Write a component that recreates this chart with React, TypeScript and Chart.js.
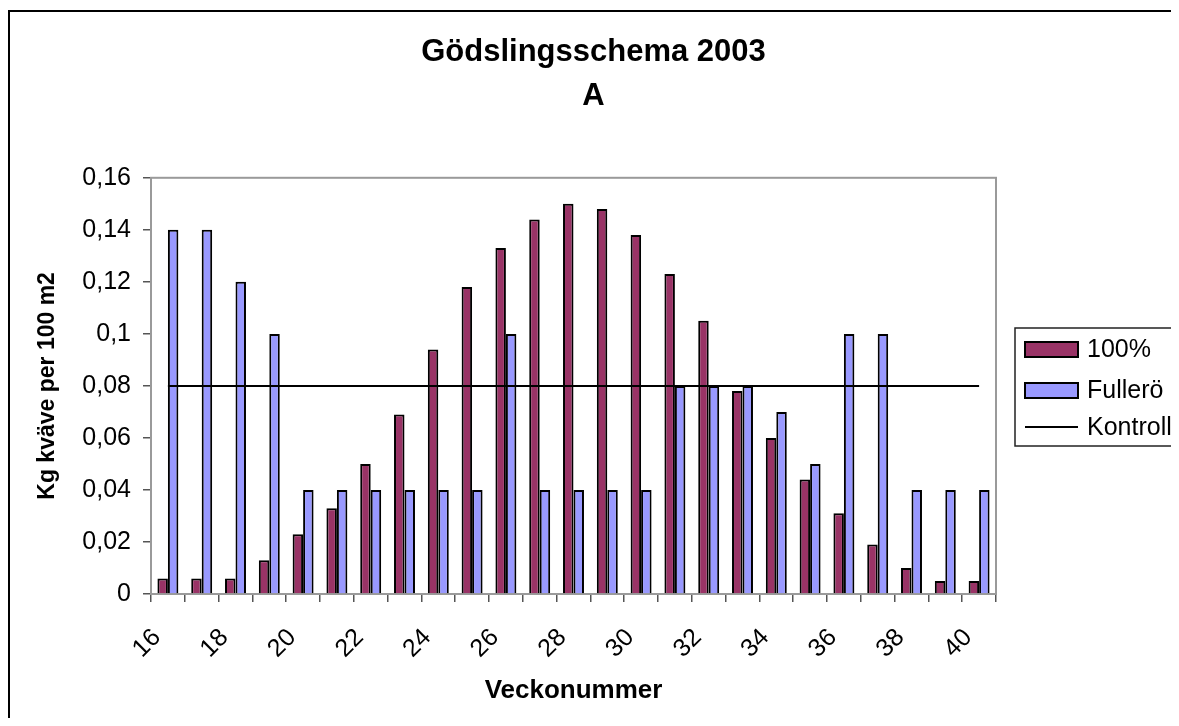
import React, { useEffect, useRef } from 'react';
import { Chart, registerables } from 'chart.js';

Chart.register(...registerables);

const weeks = ['16','17','18','19','20','21','22','23','24','25','26','27','28','29','30','31','32','33','34','35','36','37','38','39','40'];
const series100 = [0.006,0.006,0.006,0.013,0.023,0.033,0.05,0.069,0.094,0.118,0.133,0.144,0.15,0.148,0.138,0.123,0.105,0.078,0.06,0.044,0.031,0.019,0.01,0.005,0.005];
const seriesFullero = [0.14,0.14,0.12,0.10,0.04,0.04,0.04,0.04,0.04,0.04,0.10,0.04,0.04,0.04,0.04,0.08,0.08,0.08,0.07,0.05,0.10,0.10,0.04,0.04,0.04];
const seriesKontroll = [0.08,0.08,0.08,0.08,0.08,0.08,0.08,0.08,0.08,0.08,0.08,0.08,0.08,0.08,0.08,0.08,0.08,0.08,0.08,0.08,0.08,0.08,0.08,0.08,0.08];
const yTicks = { min: 0, max: 0.16, step: 0.02 };
const titleLines = ['Gödslingsschema 2003', 'A'];
const xTitle = 'Veckonummer';
const yTitle = 'Kg kväve per 100 m2';

const FONT = "'Liberation Sans', Arial, sans-serif";

const framePlugin = {
  id: 'frame',
  beforeDraw(chart: any) {
    const { ctx, width, height } = chart;
    ctx.save();
    ctx.fillStyle = '#ffffff';
    ctx.fillRect(0, 0, width, height);
    ctx.strokeStyle = '#000000';
    ctx.lineWidth = 2;
    ctx.beginPath();
    ctx.moveTo(1, height + 5);
    ctx.lineTo(1, 3);
    ctx.lineTo(width + 5, 3);
    ctx.stroke();
    ctx.restore();
  },
  beforeDatasetsDraw(chart: any) {
    const { ctx, chartArea } = chart;
    ctx.save();
    ctx.strokeStyle = '#9a9a9a';
    ctx.lineWidth = 2;
    ctx.strokeRect(chartArea.left, chartArea.top, chartArea.right - chartArea.left, chartArea.bottom - chartArea.top);
    ctx.restore();
  },
};

const legendPlugin = {
  id: 'boxLegend',
  afterDraw(chart: any) {
    const { ctx } = chart;
    const bx = 1007, by = 320, bw = 160, bh = 118;
    ctx.save();
    ctx.strokeStyle = '#222222';
    ctx.lineWidth = 1.5;
    ctx.strokeRect(bx, by, bw, bh);
    const rows = [341, 382, 419];
    ctx.font = `25px ${FONT}`;
    ctx.textBaseline = 'middle';
    ctx.textAlign = 'left';
    chart.data.datasets.forEach((ds: any, i: number) => {
      const cy = rows[i];
      if (ds.type === 'line') {
        ctx.strokeStyle = ds.borderColor;
        ctx.lineWidth = 2;
        ctx.beginPath();
        ctx.moveTo(1017, cy);
        ctx.lineTo(1070, cy);
        ctx.stroke();
      } else {
        ctx.fillStyle = ds.backgroundColor;
        ctx.fillRect(1017, cy - 7, 53, 15);
        ctx.strokeStyle = '#000000';
        ctx.lineWidth = 2;
        ctx.strokeRect(1017, cy - 7, 53, 15);
      }
      ctx.fillStyle = '#000000';
      ctx.fillText(ds.label, 1079, cy + 1);
    });
    ctx.restore();
  },
};

export default function App() {
  const ref = useRef<HTMLCanvasElement | null>(null);

  useEffect(() => {
    if (!ref.current) return;
    const chart = new Chart(ref.current, {
      type: 'bar',
      data: {
        labels: weeks,
        datasets: [
          {
            type: 'bar',
            label: '100%',
            data: series100,
            backgroundColor: '#993366',
            borderColor: '#000000',
            borderWidth: 2,
            categoryPercentage: 0.62,
            barPercentage: 1.0,
            order: 2,
          },
          {
            type: 'bar',
            label: 'Fullerö',
            data: seriesFullero,
            backgroundColor: '#9999FF',
            borderColor: '#000000',
            borderWidth: 2,
            categoryPercentage: 0.62,
            barPercentage: 1.0,
            order: 2,
          },
          {
            type: 'line',
            label: 'Kontroll',
            data: seriesKontroll,
            borderColor: '#000000',
            borderWidth: 2,
            pointRadius: 0,
            fill: false,
            order: 1,
          } as any,
        ],
      },
      options: {
        animation: false,
        responsive: true,
        maintainAspectRatio: false,
        layout: { padding: 0 },
        plugins: {
          legend: { display: false },
          tooltip: { enabled: false },
          title: {
            display: true,
            text: titleLines,
            color: '#000000',
            font: { family: FONT, size: 31, weight: 'bold', lineHeight: 1.4 },
            padding: { top: 23, bottom: 60 },
          },
        },
        scales: {
          x: {
            offset: true,
            grid: { display: true, drawOnChartArea: false, drawTicks: true, tickLength: 8, color: '#555555', lineWidth: 1.5, offset: true },
            border: { display: true, color: '#808080', width: 2 },
            ticks: {
              autoSkip: false,
              minRotation: 45,
              maxRotation: 45,
              color: '#000000',
              font: { family: FONT, size: 25 },
              padding: 21,
              labelOffset: -11,
              callback: (_v: any, i: number) => (i % 2 === 0 ? weeks[i] : ''),
            },
            title: {
              display: true,
              text: xTitle,
              color: '#000000',
              font: { family: FONT, size: 26, weight: 'bold' },
              padding: { top: 4, bottom: 12 },
            },
            afterFit: (scale: any) => { scale.height = 124; },
          },
          y: {
            min: yTicks.min,
            max: yTicks.max,
            grid: { display: true, drawOnChartArea: false, drawTicks: true, tickLength: 8, color: '#555555', lineWidth: 1.5 },
            border: { display: true, color: '#555555', width: 2 },
            ticks: {
              stepSize: yTicks.step,
              color: '#000000',
              font: { family: FONT, size: 25 },
              padding: 12,
              callback: (v: any) => {
                const n = Math.round(Number(v) * 100) / 100;
                return n === 0 ? '0' : String(n).replace('.', ',');
              },
            },
            title: {
              display: true,
              text: yTitle,
              color: '#000000',
              font: { family: FONT, size: 23, weight: 'bold' },
              padding: { top: 26, bottom: 0 },
            },
            afterFit: (scale: any) => { scale.width = 143; },
          },
          legendSpace: {
            type: 'linear',
            position: 'right',
            display: true,
            grid: { display: false, drawTicks: false },
            border: { display: false },
            ticks: { display: false },
            afterFit: (scale: any) => { scale.width = 183; },
          },
        },
      },
      plugins: [framePlugin, legendPlugin],
    });
    return () => chart.destroy();
  }, []);

  return (
    <div style={{ width: 1171, height: 710, position: 'relative' }}>
      <canvas ref={ref} />
    </div>
  );
}
